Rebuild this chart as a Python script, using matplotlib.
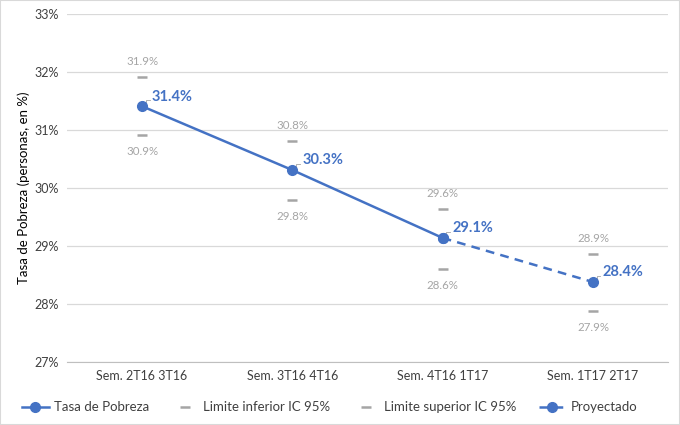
import matplotlib
matplotlib.use("Agg")
import matplotlib.pyplot as plt
import numpy as np

plt.rcParams['font.family'] = ['Lato', 'DejaVu Sans']

categories = ["Sem. 2T16 3T16", "Sem. 3T16 4T16", "Sem. 4T16 1T17", "Sem. 1T17 2T17"]
tasa = [31.41, 30.31, 29.14, np.nan]
proyectado = [np.nan, np.nan, 29.14, 28.38]
valores = [31.41, 30.31, 29.14, 28.38]
etiquetas = ["31.4%", "30.3%", "29.1%", "28.4%"]
lim_inf = [30.91, 29.79, 28.61, 27.88]
lim_sup = [31.91, 30.81, 29.64, 28.87]
lab_inf = ["30.9%", "29.8%", "28.6%", "27.9%"]
lab_sup = ["31.9%", "30.8%", "29.6%", "28.9%"]

blue = "#4472C4"
gray = "#A5A5A5"

fig = plt.figure(figsize=(6.8, 4.25), dpi=100)
ax = fig.add_axes([0.0985, 0.148, 0.884, 0.819])
x = np.arange(len(categories))

ax.plot(x, tasa, color=blue, lw=1.8, marker='o', ms=7, label="Tasa de Pobreza", zorder=4)
ax.plot(x, lim_inf, ls='none', marker='_', ms=7, mew=1.8, color=gray, label="Limite inferior IC 95%", zorder=3)
ax.plot(x, lim_sup, ls='none', marker='_', ms=7, mew=1.8, color=gray, label="Limite superior IC 95%", zorder=3)
ax.plot(x, proyectado, color=blue, lw=1.8, ls=(0, (3.5, 2.5)), marker='o', ms=7, label="Proyectado", zorder=4)

for i in range(len(x)):
    ax.annotate(etiquetas[i], (x[i], valores[i]), xytext=(7, 7), textcoords='offset points',
                color=blue, fontsize=10.5, fontweight='bold', ha='left', va='center')
    ax.plot([x[i] + 0.025, x[i] + 0.025, x[i] + 0.05], [valores[i] + 0.04, valores[i] + 0.1, valores[i] + 0.1],
            color=gray, lw=0.6, zorder=2)
    ax.annotate(lab_sup[i], (x[i], lim_sup[i]), xytext=(0, 11), textcoords='offset points',
                color=gray, fontsize=8.3, ha='center', va='center')
    ax.annotate(lab_inf[i], (x[i], lim_inf[i]), xytext=(0, -12), textcoords='offset points',
                color=gray, fontsize=8.3, ha='center', va='center')

ax.set_xlim(-0.5, 3.5)
ax.set_ylim(27, 33)
ax.set_yticks(np.arange(27, 33.5, 1))
ax.set_yticklabels([f"{v}%" for v in range(27, 34)])
ax.set_xticks(x)
ax.set_xticklabels(categories)
ax.grid(axis='y', color='#D9D9D9', lw=0.9)
ax.set_axisbelow(True)
for s in ['top', 'right', 'left']:
    ax.spines[s].set_visible(False)
ax.spines['bottom'].set_color('#BFBFBF')
ax.tick_params(axis='both', length=0, labelsize=9, colors='#404040', pad=6)
ax.set_ylabel("Tasa de Pobreza (personas, en %)", fontsize=9.5, color='black', labelpad=3)

fig.legend(loc='lower center', bbox_to_anchor=(0.485, 0.0), ncol=4, frameon=False, fontsize=9.5,
           handlelength=2.0, columnspacing=1.7, handletextpad=0.4, labelcolor='#404040')

fig.patches.append(plt.Rectangle((0, 0), 1, 1, transform=fig.transFigure, fill=False, edgecolor='#D9D9D9', lw=1.5))
fig.savefig("out.png", dpi=100)
